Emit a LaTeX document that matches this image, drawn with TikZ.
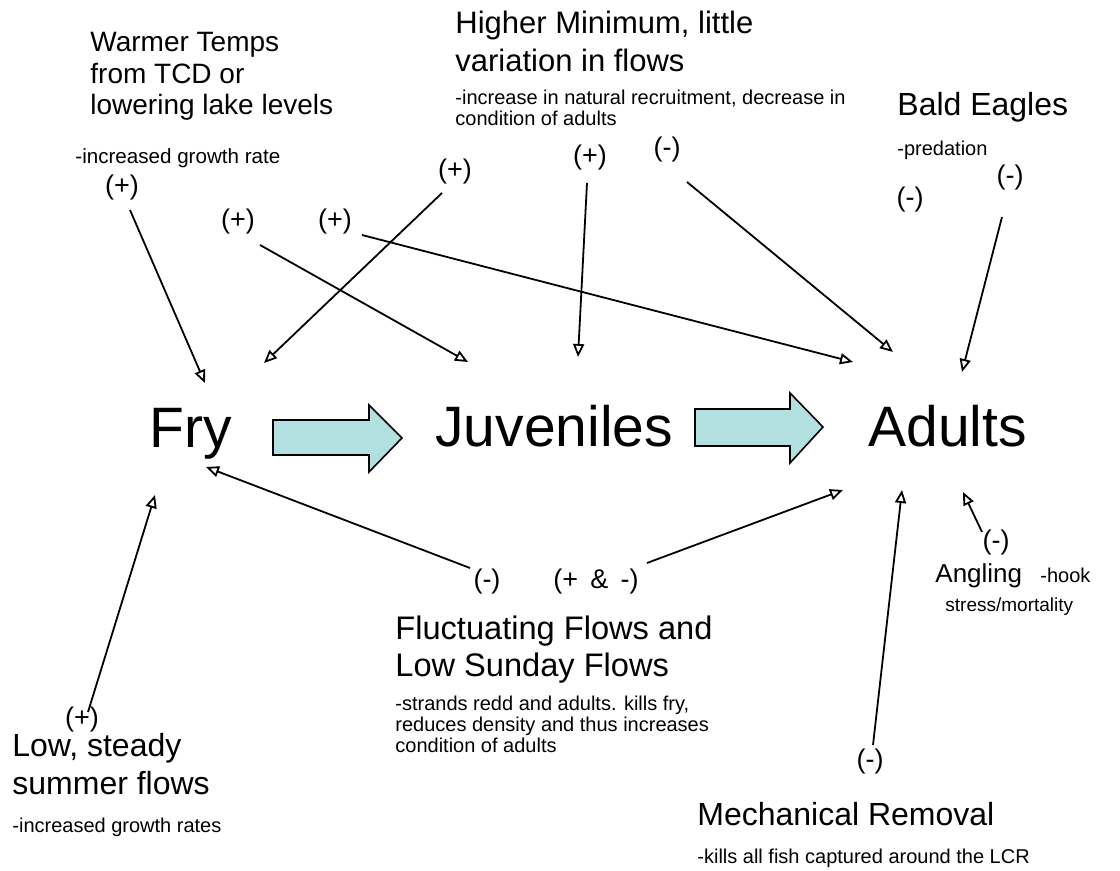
\documentclass[tikz,border=0pt]{standalone}
\usepackage{fontspec}
\setmainfont{Liberation Sans}
\usetikzlibrary{arrows.meta}
\definecolor{blockfill}{RGB}{178,223,223}
\begin{document}
\begin{tikzpicture}[x=0.5pt,y=-0.5pt,
  title/.style={anchor=north west,inner sep=0pt,align=left,font=\fontsize{16}{19}\selectfont},
  sub/.style={anchor=north west,inner sep=0pt,align=left,font=\fontsize{10}{10.5}\selectfont},
  big/.style={anchor=base west,inner sep=0pt,font=\fontsize{28.5}{30}\selectfont},
  sign/.style={inner sep=0pt,font=\fontsize{13.5}{15}\selectfont},
  conn/.style={draw,line width=0.9pt,-{Triangle[open,length=6.5pt,width=5.5pt]}},
  block/.style={draw,line width=0.8pt,fill=blockfill}
]
\useasboundingbox (0,0) rectangle (1120,871);

% main stages
\node[big] (fry) at (149,448) {Fry};
\node[big] (juv) at (435,447) {Juveniles};
\node[big] (adu) at (868,447) {Adults};

% block arrows
\draw[block] (273,420) -- (369,420) -- (369,405) -- (402,438) -- (369,472) -- (369,455) -- (273,455) -- cycle;
\draw[block] (695,409) -- (790,409) -- (790,393) -- (823,427) -- (790,463) -- (790,446) -- (695,446) -- cycle;

% driver texts
\node[title,font=\fontsize{14}{15.75}\selectfont] (warm) at (90,32) {Warmer Temps\\from TCD or\\lowering lake levels};
\node[sub,font=\fontsize{10.3}{11}\selectfont] (warmsub) at (75,148) {-increased growth rate};
\node[title,font=\fontsize{15.5}{19}\selectfont] (high) at (455,11) {Higher Minimum, little\\variation in flows};
\node[sub] (highsub) at (455,90) {-increase in natural recruitment, decrease in\\condition of adults};
\node[title] (bald) at (897,92) {Bald Eagles};
\node[sub] (baldsub) at (897,141) {-predation};
\node[title,font=\fontsize{16.3}{18.5}\selectfont] (fluct) at (395,615) {Fluctuating Flows and\\Low Sunday Flows};
\node[sub] (fluctsub) at (395,696) {-strands redd and adults. kills fry,\\reduces density and thus increases\\condition of adults};
\node[title] (low) at (12,733) {Low, steady\\summer flows};
\node[sub] (lowsub) at (12,818) {-increased growth rates};
\node[title] (mech) at (697,802) {Mechanical Removal};
\node[sub] (mechsub) at (697,849) {-kills all fish captured around the LCR};
\node[title,font=\fontsize{13}{15}\selectfont] (angl) at (935,563) {Angling};
\node[anchor=base west,inner sep=0pt,font=\fontsize{10}{11}\selectfont] (hook) at (1040,582) {-hook};
\node[sub,font=\fontsize{9.5}{10.5}\selectfont] (anglsub) at (945,597) {stress/mortality};

% sign labels
\node[sign] (s1) at (122,188) {(+)};
\node[sign] (s2) at (238,222) {(+)};
\node[sign] (s3) at (335,222) {(+)};
\node[sign] (s4) at (455,172) {(+)};
\node[sign] (s5) at (590,158) {(+)};
\node[sign] (s6) at (667,150) {(-)};
\node[sign] (s7) at (910,200) {(-)};
\node[sign] (s8) at (1010,178) {(-)};
\node[sign] (s9) at (487,582) {(-)};
\node[sign] (s10) at (596,582) {(+\hspace{0.45em}\&\hspace{0.45em}-)};
\node[sign] (s11) at (82,720) {(+)};
\node[sign] (s12) at (870,762) {(-)};
\node[sign] (s13) at (996,543) {(-)};

% connector end points
\coordinate (a1s) at (130,210);  \coordinate (a1e) at (205,383);
\coordinate (a2s) at (442,193);  \coordinate (a2e) at (264,363);
\coordinate (a3s) at (260,245);  \coordinate (a3e) at (468,362);
\coordinate (a4s) at (362,235);  \coordinate (a4e) at (853,362);
\coordinate (a5s) at (587,183);  \coordinate (a5e) at (578,357);
\coordinate (a6s) at (687,182);  \coordinate (a6e) at (893,352);
\coordinate (a7s) at (1002,217); \coordinate (a7e) at (962,372);
\coordinate (a8s) at (470,568);  \coordinate (a8e) at (206,467);
\coordinate (a9s) at (647,563);  \coordinate (a9e) at (843,490);
\coordinate (a10s) at (88,712);  \coordinate (a10e) at (155,495);
\coordinate (a11s) at (873,745); \coordinate (a11e) at (902,490);
\coordinate (a12s) at (982,532); \coordinate (a12e) at (963,492);

\foreach \i in {1,...,12} \draw[conn] (a\i s) -- (a\i e);
\end{tikzpicture}
\end{document}
